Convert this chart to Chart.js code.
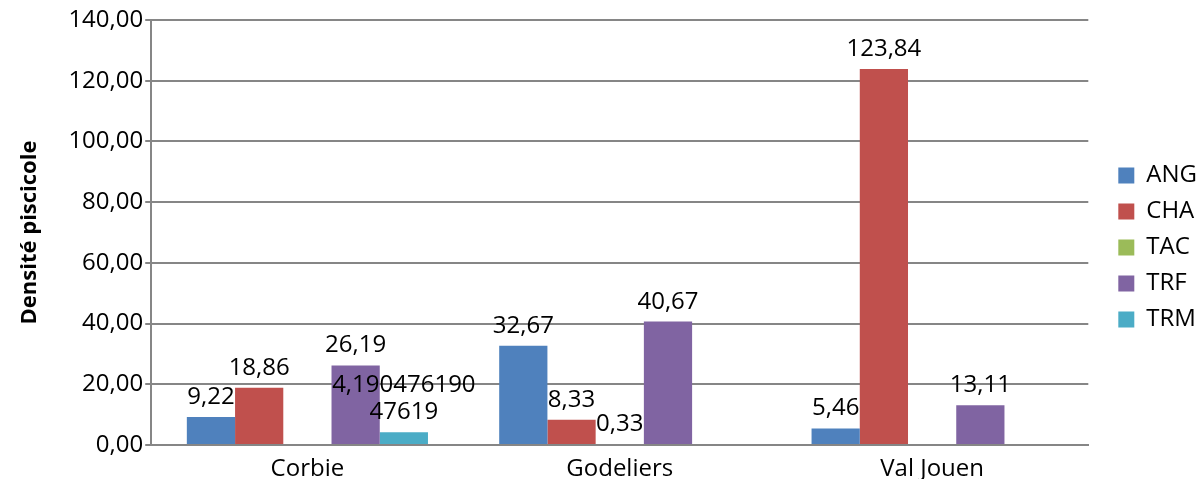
<!DOCTYPE html>
<html>
<head>
<meta charset="utf-8">
<script src="https://cdn.jsdelivr.net/npm/chart.js@4.4.1/dist/chart.umd.min.js"></script>
<style>
  html, body { margin: 0; padding: 0; background: #fff; }
  #wrap { width: 1200px; height: 479px; }
</style>
</head>
<body>
<div id="wrap"><canvas id="chart"></canvas></div>
<script>
const sites = ['Corbie', 'Godeliers', 'Val Jouen'];
const ang = [9.22, 32.67, 5.46];
const cha = [18.86, 8.33, 123.84];
const tac = [null, 0.33, null];
const trf = [26.19, 40.67, 13.11];
const trm = [4.19047619047619, null, null];
const yTicks = [0, 20, 40, 60, 80, 100, 120, 140];

const FONT = "'Open Sans', sans-serif";

function frNumber(v) {
  let s = String(v);
  if (s.indexOf('.') < 0) s += '.00';
  else if (s.split('.')[1].length < 2) s += '0';
  return s.replace('.', ',');
}

// writes the value above every bar, wrapping very long numbers
const valueLabels = {
  id: 'valueLabels',
  afterDatasetsDraw(chart) {
    const ctx = chart.ctx;
    ctx.save();
    ctx.font = '24px ' + FONT;
    ctx.fillStyle = '#000';
    ctx.textAlign = 'center';
    ctx.textBaseline = 'alphabetic';
    chart.data.datasets.forEach((ds, i) => {
      const meta = chart.getDatasetMeta(i);
      meta.data.forEach((bar, j) => {
        const v = ds.data[j];
        if (v === null || v === undefined) return;
        const txt = frNumber(v);
        const lines = [];
        for (let k = 0; k < txt.length; k += 11) lines.push(txt.slice(k, k + 11));
        const base = bar.y - 13;
        lines.forEach((ln, n) => {
          ctx.fillText(ln, bar.x, base - (lines.length - 1 - n) * 27);
        });
      });
    });
    ctx.restore();
  }
};

// leaves a wider gap between the plot and the legend
const legendGap = {
  id: 'legendGap',
  beforeInit(chart) {
    const fit = chart.legend.fit;
    chart.legend.fit = function () {
      fit.call(this);
      this.width += 11;
    };
  },
  afterLayout(chart) {
    chart.legend.left += 18;
    chart.legend.top -= 5;
    chart.legend.bottom -= 5;
  }
};

new Chart(document.getElementById('chart'), {
  type: 'bar',
  data: {
    labels: sites,
    datasets: [
      { label: 'ANG', data: ang, backgroundColor: '#4F81BD' },
      { label: 'CHA', data: cha, backgroundColor: '#C0504D' },
      { label: 'TAC', data: tac, backgroundColor: '#9BBB59' },
      { label: 'TRF', data: trf, backgroundColor: '#8064A2' },
      { label: 'TRM', data: trm, backgroundColor: '#4BACC6' }
    ]
  },
  options: {
    responsive: true,
    maintainAspectRatio: false,
    animation: false,
    datasets: {
      bar: { barPercentage: 1, categoryPercentage: 0.772, skipNull: false }
    },
    layout: { padding: { top: 20, right: 0, left: 17, bottom: -6 } },
    plugins: {
      tooltip: { enabled: false },
      legend: {
        position: 'right',
        align: 'center',
        labels: {
          font: { family: FONT, size: 24 },
          color: '#000',
          boxWidth: 16,
          boxHeight: 16,
          padding: 12
        }
      }
    },
    scales: {
      x: {
        grid: { display: false },
        border: { color: '#868686', width: 2 },
        ticks: { font: { family: FONT, size: 24, lineHeight: 1 }, color: '#000', padding: 4 }
      },
      y: {
        min: 0,
        max: 140,
        afterBuildTicks(axis) { axis.ticks = yTicks.map(v => ({ value: v })); },
        grid: { color: '#868686', lineWidth: 2, tickLength: 6, tickColor: '#868686' },
        border: { color: '#868686', width: 2 },
        ticks: {
          font: { family: FONT, size: 24 },
          color: '#000',
          padding: 2,
          callback: v => v.toFixed(2).replace('.', ',')
        },
        title: {
          display: true,
          text: 'Densité piscicole',
          font: { family: FONT, size: 22, weight: 'bold' },
          color: '#000',
          padding: { top: 0, bottom: 23 }
        }
      }
    }
  },
  plugins: [valueLabels, legendGap]
});
</script>
</body>
</html>
